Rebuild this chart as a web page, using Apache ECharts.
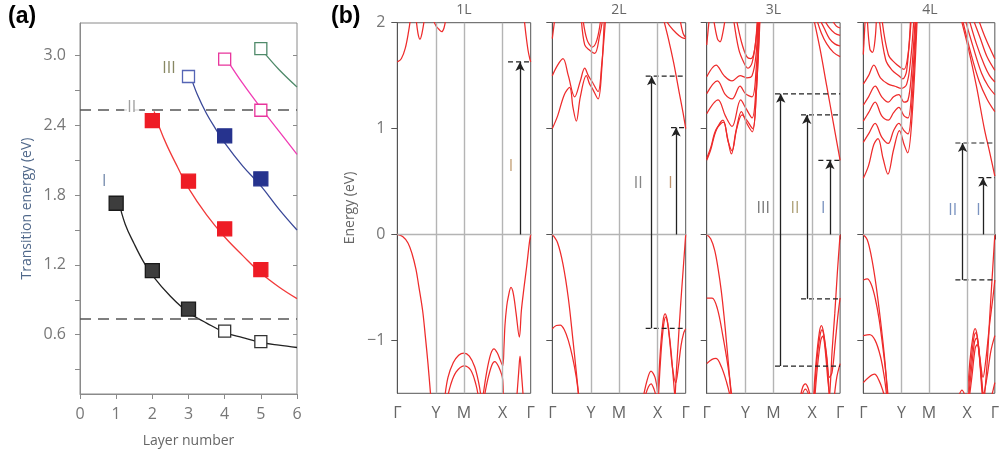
<!DOCTYPE html>
<html><head><meta charset="utf-8">
<script src="https://cdn.jsdelivr.net/npm/echarts@6.0.0/dist/echarts.min.js"></script>
<style>html,body{margin:0;padding:0;background:#fff}#c{width:1002px;height:454px}</style>
</head><body><div id="c"></div>
<script>
// ---------- Panel (a) data ----------
const layerTicks = [0,1,2,3,4,5,6];
const energyLabelTicks = [0.6,1.2,1.8,2.4,3.0];
const energyMinorTicks = [0.3,0.6,0.9,1.2,1.5,1.8,2.1,2.4,2.7,3.0];
const refLines = [2.53, 0.74];
const filledI = [[1,1.73],[2,1.15],[3,0.82]];
const openI = [[4,0.63],[5,0.54]];
const filledII = [[2,2.44],[3,1.92],[4,1.51],[5,1.16]];
const filledIII = [[4,2.31],[5,1.94]];
const openIII = [[3,2.82]];
const openIV = [[4,2.97],[5,2.53]];
const openV = [[5,3.06]];
const curveI = [[1.05,1.77],[1.25,1.55],[1.5,1.38],[1.75,1.23],[2,1.11],[2.5,0.93],[3,0.79],[3.5,0.70],[4,0.62],[4.5,0.575],[5,0.535],[5.5,0.51],[6,0.49]];
const curveII = [[2.05,2.52],[2.2,2.38],[2.4,2.23],[2.7,2.04],[3,1.86],[3.5,1.63],[4,1.44],[4.5,1.28],[5,1.13],[5.5,1.01],[6,0.91]];
const curveIII = [[3.05,2.83],[3.25,2.66],[3.5,2.5],[3.75,2.37],[4,2.25],[4.5,2.05],[5,1.88],[5.5,1.68],[6,1.5]];
const curveIV = [[4.05,2.97],[4.5,2.76],[5,2.55],[5.5,2.35],[6,2.15]];
const curveV = [[5.05,3.04],[5.5,2.88],[6,2.73]];
const labelsA = [[0.67,1.92,'I'],[1.43,2.55,'II'],[2.46,2.89,'III']];

// ---------- Panel (b) data ----------
const panelNames = ['1L','2L','3L','4L'];
const kPoints = [0,0.29,0.5,0.79,1];
const kLabels = ['Γ','Y','M','X','Γ'];
const eTicks = [-1,0,1,2];

const bands1L = [
 [[0,1.63],[0.03,1.66],[0.06,1.76],[0.085,1.92],[0.1,2.05]],
 [[0.14,2.05],[0.155,1.9],[0.17,1.845],[0.185,1.9],[0.205,2.05]],
 [[0.262,2.05],[0.29,1.97],[0.31,1.94],[0.333,1.915],[0.35,1.95],[0.365,2.05]],
 [[0.95,2.05],[0.965,1.88],[0.98,1.74],[0.993,1.66],[1,1.63]],
 [[0,0],[0.04,-0.02],[0.08,-0.08],[0.11,-0.18],[0.14,-0.33],[0.16,-0.48],[0.19,-0.72],[0.21,-0.96],[0.23,-1.22],[0.25,-1.52]],
 [[0.355,-1.55],[0.38,-1.35],[0.42,-1.21],[0.46,-1.14],[0.5,-1.12],[0.54,-1.15],[0.58,-1.25],[0.61,-1.4],[0.63,-1.55]],
 [[0.375,-1.55],[0.4,-1.42],[0.44,-1.30],[0.5,-1.24],[0.55,-1.28],[0.59,-1.42],[0.61,-1.55]],
 [[0.64,-1.55],[0.67,-1.3],[0.70,-1.13],[0.725,-1.08],[0.75,-1.12],[0.77,-1.18],[0.79,-1.24],[0.80,-1.05],[0.807,-0.86],[0.82,-0.68],[0.832,-0.59],[0.852,-0.50],[0.87,-0.56],[0.89,-0.74],[0.915,-0.97],[0.93,-0.72],[0.95,-0.5],[0.97,-0.3],[0.99,-0.08],[1,0]],
 [[0.65,-1.55],[0.68,-1.36],[0.71,-1.23],[0.73,-1.2],[0.76,-1.25],[0.79,-1.37],[0.795,-1.55]],
 [[0.895,-1.55],[0.91,-1.3],[0.92,-1.15],[0.93,-1.3],[0.945,-1.55]]
];
const bands2L = [
 [[0,1.85],[0.02,2.05]],
 [[0,1.5],[0.04,1.6],[0.08,1.66],[0.12,1.5],[0.168,1.30],[0.21,1.45],[0.243,1.57],[0.27,1.5],[0.3,1.44],[0.343,1.35],[0.37,1.6],[0.40,2.05]],
 [[0,1.0],[0.04,1.12],[0.09,1.32],[0.13,1.39],[0.155,1.2],[0.18,1.07],[0.21,1.3],[0.255,1.5],[0.28,1.42],[0.3,1.38],[0.343,1.28],[0.37,1.55],[0.39,2.05]],
 [[0.217,2.05],[0.243,1.79],[0.28,1.74],[0.318,1.71],[0.355,1.88],[0.38,2.05]],
 [[0.228,2.05],[0.26,1.84],[0.3,1.77],[0.335,1.84],[0.365,2.05]],
 [[0.83,2.05],[0.87,1.85],[0.91,1.62],[0.95,1.35],[0.98,1.15],[1.0,1.0]],
 [[0.84,2.05],[0.88,1.97],[0.93,1.9],[0.97,1.86],[1.0,1.85]],
 [[0.955,2.05],[0.98,1.9],[1.0,1.86]],
 [[0,0],[0.04,-0.08],[0.08,-0.28],[0.12,-0.6],[0.155,-1.0],[0.18,-1.3],[0.2,-1.55]],
 [[0,-0.89],[0.03,-0.86],[0.06,-0.855],[0.09,-0.9],[0.12,-1.0],[0.15,-1.15],[0.18,-1.35],[0.2,-1.55]],
 [[1.0,0],[0.98,-0.35],[0.96,-0.7],[0.945,-1.0],[0.93,-1.3],[0.92,-1.55]],
 [[0.79,-1.55],[0.81,-1.1],[0.83,-0.82],[0.845,-0.75],[0.86,-0.8],[0.88,-1.0],[0.9,-1.25],[0.925,-1.4],[0.945,-1.25],[0.965,-1.05],[0.985,-0.93],[1.0,-0.89]],
 [[0.795,-1.55],[0.815,-1.12],[0.835,-0.85],[0.85,-0.78],[0.865,-0.84],[0.89,-1.1],[0.91,-1.4],[0.92,-1.55]],
 [[0.68,-1.55],[0.71,-1.38],[0.74,-1.29],[0.77,-1.35],[0.79,-1.5]],
 [[0.69,-1.55],[0.72,-1.44],[0.74,-1.41],[0.765,-1.47],[0.78,-1.55]]
];
const bands3L = [
 [[0,0.70],[0.03,0.8],[0.07,0.98],[0.122,1.08],[0.155,0.92],[0.185,0.76],[0.22,0.98],[0.26,1.16],[0.3,1.05],[0.342,0.97],[0.37,1.3],[0.397,2.05]],
 [[0,0.72],[0.03,0.82],[0.07,0.99],[0.125,1.06],[0.16,0.88],[0.19,0.79],[0.225,1.0],[0.265,1.13],[0.3,1.08],[0.345,1.0],[0.372,1.35],[0.4,2.05]],
 [[0,1.14],[0.085,1.27],[0.14,1.12],[0.19,1.02],[0.255,1.27],[0.29,1.2],[0.34,1.1],[0.37,1.4],[0.395,2.05]],
 [[0,1.33],[0.08,1.45],[0.14,1.32],[0.19,1.28],[0.25,1.4],[0.29,1.33],[0.34,1.3],[0.37,1.55],[0.39,2.05]],
 [[0,1.49],[0.07,1.6],[0.13,1.5],[0.19,1.45],[0.25,1.5],[0.3,1.48],[0.34,1.5],[0.37,1.7],[0.385,2.05]],
 [[0,1.79],[0.02,2.05]],
 [[0.05,2.05],[0.08,1.85],[0.1,1.82],[0.12,1.9],[0.14,2.05]],
 [[0.2,2.05],[0.24,1.75],[0.28,1.62],[0.31,1.57],[0.34,1.62],[0.37,1.85],[0.385,2.05]],
 [[0.22,2.05],[0.26,1.82],[0.3,1.68],[0.33,1.66],[0.36,1.75],[0.38,2.05]],
 [[0.80,2.05],[0.85,1.75],[0.9,1.4],[0.95,1.05],[1.0,0.70]],
 [[0.82,2.05],[0.86,1.9],[0.9,1.8],[0.95,1.72],[1.0,1.68]],
 [[0.84,2.05],[0.88,1.95],[0.92,1.85],[0.96,1.8],[1.0,1.78]],
 [[0.87,2.05],[0.92,1.95],[0.96,1.9],[1.0,1.88]],
 [[0.93,2.05],[0.97,1.97],[1.0,1.95]],
 [[0,0],[0.03,-0.04],[0.06,-0.15],[0.085,-0.32],[0.109,-0.53],[0.13,-0.77],[0.147,-1.0],[0.165,-1.25],[0.185,-1.55]],
 [[0,-0.6],[0.04,-0.6],[0.08,-0.7],[0.12,-0.95],[0.16,-1.25],[0.19,-1.55]],
 [[0,-1.22],[0.04,-1.18],[0.07,-1.17],[0.11,-1.25],[0.15,-1.4],[0.18,-1.55]],
 [[1.0,0],[0.98,-0.35],[0.96,-0.75],[0.94,-1.1],[0.93,-1.35],[0.92,-1.55]],
 [[0.8,-1.55],[0.82,-1.2],[0.845,-0.92],[0.86,-0.86],[0.875,-0.92],[0.9,-1.15],[0.92,-1.35],[0.94,-1.3],[0.965,-1.0],[0.985,-0.75],[1.0,-0.6]],
 [[0.805,-1.55],[0.825,-1.2],[0.85,-0.95],[0.865,-0.9],[0.88,-0.97],[0.905,-1.25],[0.92,-1.55]],
 [[0.81,-1.55],[0.83,-1.25],[0.855,-1.0],[0.87,-0.96],[0.885,-1.05],[0.91,-1.4],[0.925,-1.55]],
 [[0.955,-1.55],[0.975,-1.35],[1.0,-1.22]],
 [[0.7,-1.55],[0.72,-1.44],[0.74,-1.41],[0.76,-1.45],[0.78,-1.55]],
 [[0.705,-1.55],[0.74,-1.46],[0.775,-1.55]]
];
const bands4L = [
 [[0,0.53],[0.04,0.65],[0.08,0.85],[0.112,0.905],[0.15,0.72],[0.187,0.57],[0.23,0.8],[0.275,0.98],[0.31,0.85],[0.337,0.77],[0.37,1.1],[0.41,2.05]],
 [[0,0.87],[0.04,0.95],[0.09,1.05],[0.14,0.92],[0.19,0.86],[0.23,0.98],[0.27,1.05],[0.31,0.98],[0.34,0.95],[0.37,1.25],[0.405,2.05]],
 [[0,1.07],[0.04,1.15],[0.09,1.25],[0.14,1.12],[0.19,1.08],[0.23,1.15],[0.27,1.2],[0.31,1.12],[0.34,1.1],[0.37,1.4],[0.4,2.05]],
 [[0,1.22],[0.04,1.3],[0.09,1.4],[0.14,1.3],[0.19,1.25],[0.23,1.3],[0.27,1.32],[0.31,1.25],[0.34,1.27],[0.365,1.5],[0.395,2.05]],
 [[0,1.42],[0.04,1.5],[0.08,1.6],[0.13,1.48],[0.19,1.42],[0.24,1.4],[0.29,1.38],[0.33,1.42],[0.36,1.65],[0.385,2.05]],
 [[0,1.7],[0.015,2.05]],
 [[0.03,2.05],[0.05,1.75],[0.07,1.72],[0.09,1.85],[0.1,2.05]],
 [[0.12,2.05],[0.17,1.65],[0.22,1.55],[0.27,1.5],[0.3,1.47],[0.33,1.55],[0.36,2.05]],
 [[0.14,2.05],[0.19,1.7],[0.24,1.62],[0.28,1.58],[0.31,1.56],[0.34,1.7],[0.365,2.05]],
 [[0.74,2.05],[0.8,1.75],[0.86,1.4],[0.92,1.0],[0.96,0.78],[1.0,0.55]],
 [[0.75,2.05],[0.82,1.7],[0.88,1.45],[0.94,1.28],[1.0,1.16]],
 [[0.77,2.05],[0.84,1.75],[0.9,1.52],[0.95,1.4],[1.0,1.32]],
 [[0.8,2.05],[0.86,1.8],[0.92,1.6],[0.96,1.5],[1.0,1.44]],
 [[0.83,2.05],[0.89,1.85],[0.94,1.68],[1.0,1.55]],
 [[0.87,2.05],[0.93,1.85],[1.0,1.66]],
 [[0,0],[0.03,-0.05],[0.06,-0.2],[0.09,-0.42],[0.12,-0.7],[0.148,-1.0],[0.168,-1.25],[0.185,-1.55]],
 [[0,-0.43],[0.03,-0.42],[0.06,-0.47],[0.09,-0.6],[0.12,-0.8],[0.15,-1.08],[0.175,-1.35],[0.19,-1.55]],
 [[0,-0.955],[0.048,-0.946],[0.09,-1.0],[0.13,-1.15],[0.16,-1.35],[0.18,-1.55]],
 [[0,-1.4],[0.04,-1.35],[0.085,-1.32],[0.12,-1.38],[0.15,-1.48],[0.165,-1.55]],
 [[1.0,0],[0.98,-0.4],[0.96,-0.8],[0.945,-1.15],[0.93,-1.4],[0.92,-1.55]],
 [[0.79,-1.55],[0.81,-1.2],[0.835,-0.95],[0.85,-0.89],[0.865,-0.95],[0.89,-1.2],[0.91,-1.35],[0.93,-1.2],[0.96,-0.85],[0.985,-0.6],[1.0,-0.43]],
 [[0.795,-1.55],[0.815,-1.25],[0.84,-0.98],[0.855,-0.93],[0.87,-1.0],[0.895,-1.3],[0.915,-1.5],[0.94,-1.35],[0.97,-1.1],[1.0,-0.955]],
 [[0.8,-1.55],[0.82,-1.3],[0.845,-1.02],[0.86,-0.98],[0.875,-1.05],[0.9,-1.4],[0.91,-1.55]],
 [[0.805,-1.55],[0.825,-1.35],[0.85,-1.08],[0.865,-1.04],[0.88,-1.12],[0.9,-1.45],[0.908,-1.55]],
 [[0.97,-1.55],[0.985,-1.48],[1.0,-1.4]],
 [[0.72,-1.55],[0.75,-1.47],[0.78,-1.55]]
];
// arrows: [k, fromE, toE]; dashes: [kStart, E] (to right edge); labels: [k, E, text]
const arrows = [
 [[0.92,0,1.63]],
 [[0.745,-0.886,1.495],[0.928,0,1.01]],
 [[0.555,-1.243,1.328],[0.75,-0.608,1.129],[0.924,0,0.70]],
 [[0.755,-0.429,0.864],[0.91,0,0.536]]
];
const dashes = [
 [[0.83,1.63]],
 [[0.70,1.495],[0.70,-0.886],[0.89,1.01]],
 [[0.512,1.328],[0.512,-1.243],[0.707,1.129],[0.707,-0.608],[0.837,0.70]],
 [[0.70,0.864],[0.70,-0.429],[0.875,0.536]]
];
const labelsB = [
 [[0.853,0.64,'I']],
 [[0.645,0.485,'II'],[0.886,0.485,'I']],
 [[0.424,0.243,'III'],[0.662,0.25,'II'],[0.874,0.25,'I']],
 [[0.68,0.227,'II'],[0.875,0.227,'I']]
];
const allBands = [bands1L, bands2L, bands3L, bands4L];

// ---------- styling ----------
const FONT = '"Open Sans", "Noto Sans", sans-serif';
const RED = '#ee2b2b';
const labelColorsA = ['#56709a','#888888','#6a6a3c'];
const labelColorsB = [['#b58a55'],['#666666','#b07a4a'],['#555555','#9a8a55','#5a78b0'],['#5a78b0','#5a78b0']];
const bLeft = [397.3, 552.3, 706.7, 863.3];
const bWidth = 133.4;

const grids = [{left:80, top:23, width:217, height:371, show:true, borderColor:'#8a8a8a', borderWidth:1}];
bLeft.forEach(l => grids.push({left:l, top:22.7, width:bWidth, height:370.6, show:true, borderColor:'#555', borderWidth:1}));

const xAxes = [{
  type:'value', gridIndex:0, min:0, max:6, interval:1,
  name:'Layer number', nameLocation:'middle', nameGap:40,
  nameTextStyle:{color:'#666', fontSize:14, fontFamily:FONT},
  axisLine:{lineStyle:{color:'#8a8a8a'}},
  axisTick:{show:true, length:5, lineStyle:{color:'#8a8a8a'}},
  axisLabel:{color:'#777', fontSize:16, fontFamily:FONT, margin:12},
  splitLine:{show:false}
}];
const yAxes = [{
  type:'value', gridIndex:0, min:0.09, max:3.28,
  name:'Transition energy (eV)', nameLocation:'middle', nameGap:46, nameRotate:90,
  nameTextStyle:{color:'#50688a', fontSize:14, fontFamily:FONT},
  axisLine:{lineStyle:{color:'#8a8a8a'}},
  axisTick:{show:true, length:5, customValues:energyMinorTicks, lineStyle:{color:'#8a8a8a'}},
  axisLabel:{color:'#777', fontSize:16, fontFamily:FONT, margin:14, customValues:energyLabelTicks, formatter:v=>v.toFixed(1)},
  splitLine:{show:false}
}];
for (let i=0;i<4;i++){
  xAxes.push({
    type:'value', gridIndex:i+1, min:0, max:1,
    axisLine:{lineStyle:{color:'#444'}},
    axisTick:{show:true, length:5, customValues:kPoints, lineStyle:{color:'#444'}},
    axisLabel:{color:'#666', fontSize:16, fontFamily:FONT, margin:12, customValues:kPoints,
      formatter:v=>kLabels[kPoints.indexOf(v)]},
    splitLine:{show:false}
  });
  yAxes.push({
    type:'value', gridIndex:i+1, min:-1.5, max:2,
    name: i===0 ? 'Energy (eV)' : '', nameLocation:'middle', nameGap:40, nameRotate:90,
    nameTextStyle:{color:'#666', fontSize:14, fontFamily:FONT},
    axisLine:{lineStyle:{color:'#555'}},
    axisTick:{show:true, length:6, customValues:eTicks, lineStyle:{color:'#555'}},
    axisLabel:{show:i===0, color:'#777', fontSize:16, fontFamily:FONT, margin:12, customValues:eTicks,
      formatter:v=> v<0 ? '\u2212'+Math.abs(v) : String(v)},
    splitLine:{show:false}
  });
}
// right mirror axis of panel (a)
yAxes.push({
  type:'value', gridIndex:0, min:0.09, max:3.28, position:'right',
  axisLine:{show:false}, axisLabel:{show:false}, splitLine:{show:false},
  axisTick:{show:true, inside:true, length:4, customValues:energyLabelTicks, lineStyle:{color:'#8a8a8a'}}
});

const series = [];
series.push({type:'line', xAxisIndex:0, yAxisIndex:0, data:[], silent:true,
  markLine:{silent:true, symbol:['none','none'], label:{show:false},
    lineStyle:{color:'#555', width:1.5, type:[11,7]},
    data: refLines.map(v=>({yAxis:v}))}});
const curvesA = [[curveI,'#222'],[curveII,'#f23a3a'],[curveIII,'#3a4898'],[curveIV,'#f03cb4'],[curveV,'#4f8a6a']];
curvesA.forEach(([d,c]) => series.push({type:'line', xAxisIndex:0, yAxisIndex:0, data:d, smooth:0.4,
  showSymbol:false, silent:true, z:3, lineStyle:{color:c, width:1.3}}));
const ptsA = [
  [filledI, '#3d3d3d', '#1a1a1a', 14],
  [filledII, '#ee1c25', '#ee1c25', 14],
  [filledIII, '#26338e', '#26338e', 14],
  [openI, '#ffffff', '#333333', 12],
  [openIII, '#ffffff', '#5565b5', 12],
  [openIV, '#ffffff', '#e8359c', 12],
  [openV, '#ffffff', '#4f8a6a', 12]
];
ptsA.forEach(([d,fill,border,s]) => series.push({type:'scatter', xAxisIndex:0, yAxisIndex:0, data:d,
  symbol:'rect', symbolSize:s, silent:true, z:5,
  itemStyle:{color:fill, borderColor:border, borderWidth:1.3, opacity:1}}));
series.push({type:'scatter', xAxisIndex:0, yAxisIndex:0, symbolSize:1, silent:true, z:6,
  itemStyle:{color:'rgba(0,0,0,0)'},
  data: labelsA.map((l,j)=>({value:l, label:{show:true, position:'inside', formatter:l[2], color:labelColorsA[j],
     fontSize:16, fontFamily:FONT, backgroundColor: j===1 ? '#fff' : 'transparent', padding:[0,3]}}))});

for (let i=0;i<4;i++){
  const xi=i+1, yi=i+1;
  series.push({type:'line', xAxisIndex:xi, yAxisIndex:yi, data:[], silent:true, z:1,
    markLine:{silent:true, symbol:['none','none'], label:{show:false}, animation:false,
      lineStyle:{color:'#b4b4b4', width:1.4, type:'solid'},
      data: kPoints.slice(1,4).map(k=>({xAxis:k})).concat([{yAxis:0}])}});
  allBands[i].forEach(c => series.push({type:'line', xAxisIndex:xi, yAxisIndex:yi, data:c, smooth:0.35,
    showSymbol:false, silent:true, z:2, clip:true, lineStyle:{color:RED, width:1.25}}));
  dashes[i].forEach(d => series.push({type:'line', xAxisIndex:xi, yAxisIndex:yi, data:[[d[0],d[1]],[1,d[1]]],
    showSymbol:false, silent:true, z:3, lineStyle:{color:'#222', width:1.2, type:[5,3]}}));
  series.push({type:'line', xAxisIndex:xi, yAxisIndex:yi, data:[], silent:true, z:4,
    markLine:{silent:true, symbol:['none','arrow'], symbolSize:[7,9], label:{show:false}, animation:false,
      lineStyle:{color:'#222', width:1.3, type:'solid'},
      data: arrows[i].map(a=>[{coord:[a[0],a[1]]},{coord:[a[0],a[2]]}])}});
  series.push({type:'scatter', xAxisIndex:xi, yAxisIndex:yi, symbolSize:1, silent:true, z:5,
    itemStyle:{color:'rgba(0,0,0,0)'},
    data: labelsB[i].map((l,j)=>({value:l, label:{show:true, position:'inside', formatter:l[2],
      color:labelColorsB[i][j], fontSize:16, fontFamily:FONT}}))});
}

const graphic = [
  {type:'text', left:8, top:5, style:{text:'(a)', font:'bold 23px "Liberation Sans", Arial, sans-serif', fill:'#000'}},
  {type:'text', left:331, top:5, style:{text:'(b)', font:'bold 23px "Liberation Sans", Arial, sans-serif', fill:'#000'}}
];
panelNames.forEach((n,i)=>graphic.push({type:'text', x: bLeft[i]+bWidth/2, y: 3,
  style:{text:n, align:'center', font:'14px "Open Sans", sans-serif', fill:'#666'}}));

const chart = echarts.init(document.getElementById('c'), null, {renderer:'canvas'});
chart.setOption({animation:false, grid:grids, xAxis:xAxes, yAxis:yAxes, series, graphic});
</script></body></html>
